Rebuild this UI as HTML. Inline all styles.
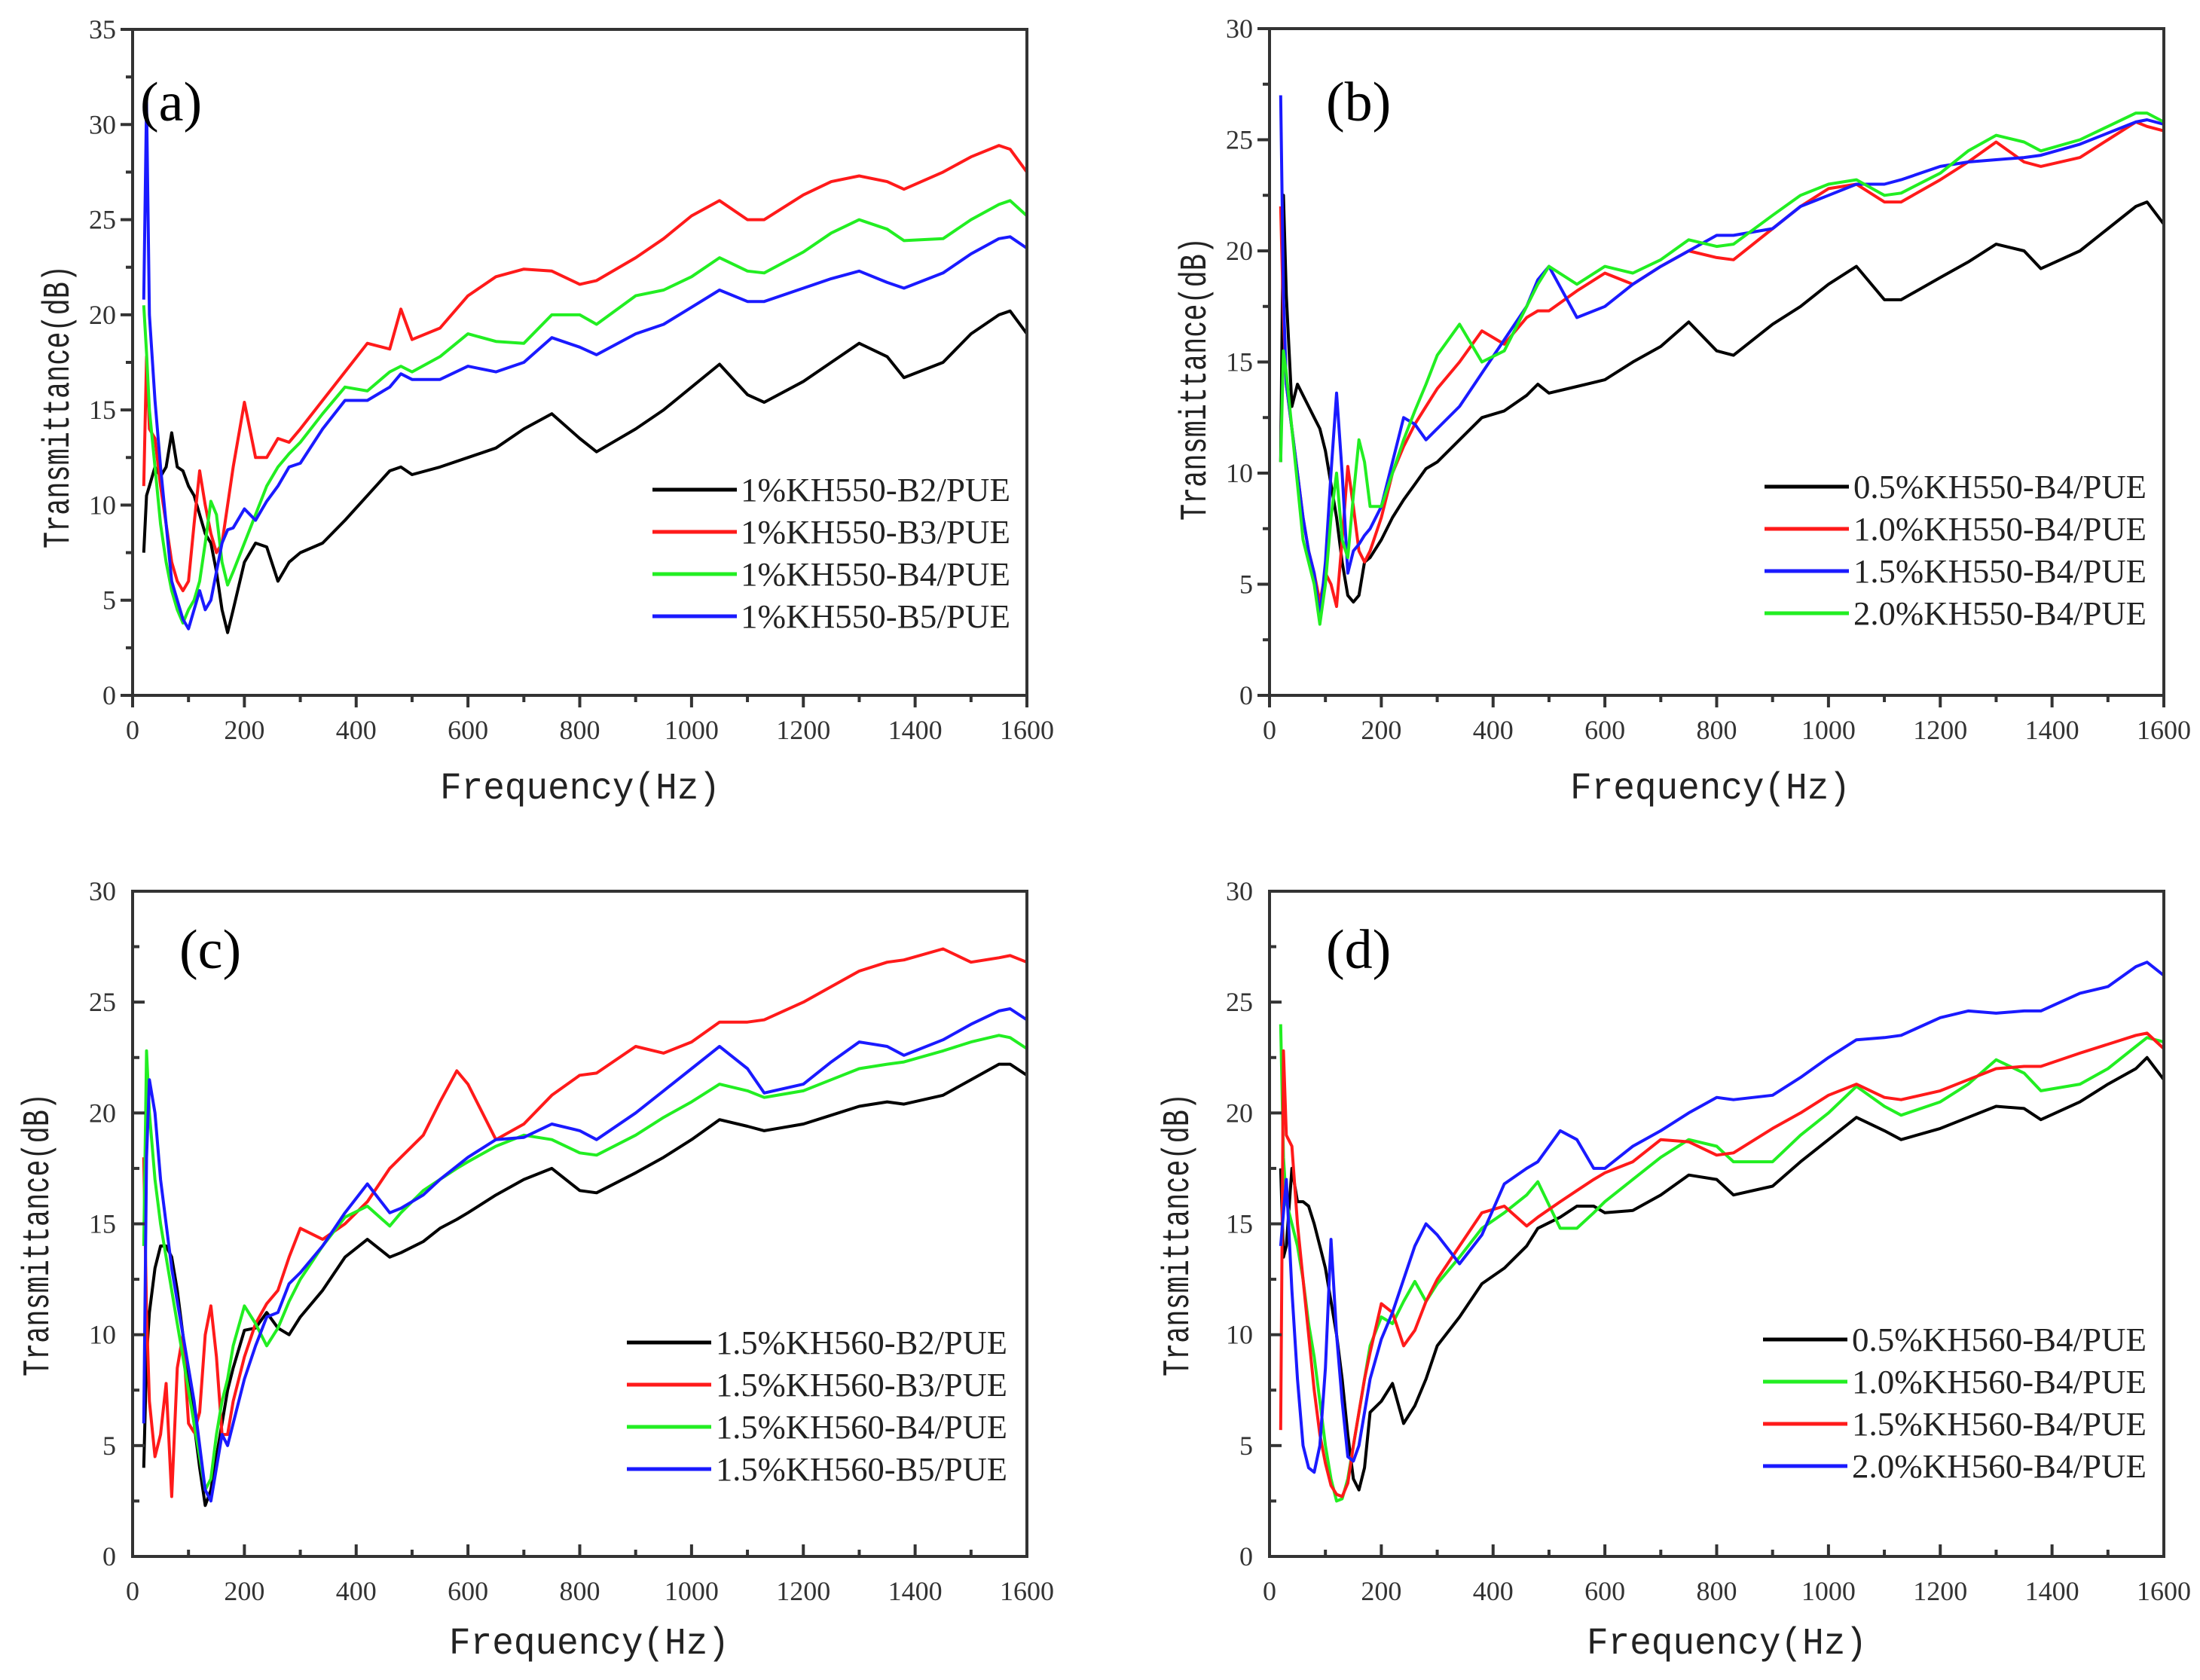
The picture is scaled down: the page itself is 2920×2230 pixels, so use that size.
<!DOCTYPE html>
<html><head><meta charset="utf-8"><style>
html,body{margin:0;padding:0;background:#fff}
svg{display:block}
</style></head><body>
<svg id="fig" width="2920" height="2230" viewBox="0 0 2920 2230" xmlns="http://www.w3.org/2000/svg"></svg>
<script>
// ---- data (Hz grid and dB values) ----
const freqAB = [20,25,30,40,50,60,70,80,90,100,110,120,130,140,150,160,170,180,200,220,240,260,280,300,340,380,420,460,480,500,550,600,650,700,750,800,830,900,950,1000,1050,1100,1130,1200,1250,1300,1350,1380,1450,1500,1550,1570,1600];
const freqCD = [20,25,30,40,50,60,70,80,90,100,110,120,130,140,150,160,170,180,200,220,240,260,280,300,340,380,420,460,480,520,550,580,600,650,700,750,800,830,900,950,1000,1050,1100,1130,1200,1250,1300,1350,1380,1450,1500,1550,1570,1600];

const aB2 = [7.5,10.5,11,12,11.5,12,13.8,12,11.8,11,10.5,9.5,8.5,8,6.5,4.5,3.3,4.5,7,8,7.8,6,7,7.5,8,9.2,10.5,11.8,12,11.6,12,12.5,13,14,14.8,13.5,12.8,14,15,16.2,17.4,15.8,15.4,16.5,17.5,18.5,17.8,16.7,17.5,19,20,20.2,19];
const aB3 = [11,17.8,14,13.5,11,9,7,6,5.5,6,9,11.8,10,8.5,7.5,8,10,12,15.4,12.5,12.5,13.5,13.3,14,15.5,17,18.5,18.2,20.3,18.7,19.3,21,22,22.4,22.3,21.6,21.8,23,24,25.2,26,25,25,26.3,27,27.3,27,26.6,27.5,28.3,28.9,28.7,27.5];
const aB4 = [20.5,18,15,12,9,7,5.5,4.5,3.8,4.5,5,6,8,10.2,9.5,7,5.8,6.5,8,9.5,11,12,12.7,13.3,14.8,16.2,16,17,17.3,17,17.8,19,18.6,18.5,20,20,19.5,21,21.3,22,23,22.3,22.2,23.3,24.3,25,24.5,23.9,24,25,25.8,26,25.2];
const aB5 = [20.8,31.2,20,15.5,12,9,6,5,4,3.5,4.5,5.5,4.5,5,6.5,8,8.7,8.8,9.8,9.2,10.2,11,12,12.2,14,15.5,15.5,16.2,16.9,16.6,16.6,17.3,17,17.5,18.8,18.3,17.9,19,19.5,20.4,21.3,20.7,20.7,21.4,21.9,22.3,21.7,21.4,22.2,23.2,24,24.1,23.5];

const b05 = [10.5,22.5,18,13,14,13.5,13,12.5,12,11,9.5,8,6,4.5,4.2,4.5,6,6.2,7,8,8.8,9.5,10.2,10.5,11.5,12.5,12.8,13.5,14,13.6,13.9,14.2,15,15.7,16.8,15.5,15.3,16.7,17.5,18.5,19.3,17.8,17.8,18.8,19.5,20.3,20,19.2,20,21,22,22.2,21.2];
const b10 = [22,17,14,12,10,8,6.5,5.5,4.2,5.5,5,4,7,10.3,8.5,6.5,6,6.5,8,10,11.2,12.2,13,13.8,15,16.4,15.8,17,17.3,17.3,18.2,19,18.5,19.3,20,19.7,19.6,21,22,22.8,23,22.2,22.2,23.2,24,24.9,24,23.8,24.2,25,25.8,25.6,25.4];
const b15 = [27,18,14,12,10,8,6.5,5.5,3.5,6,10,13.6,10,5.5,6.5,6.8,7.2,7.5,8.5,10.5,12.5,12.2,11.5,12,13,14.5,16,17.5,18.7,19.3,17,17.5,18.5,19.3,20,20.7,20.7,21,22,22.5,23,23,23.2,23.8,24,24.1,24.2,24.3,24.8,25.3,25.8,25.9,25.7];
const b20 = [10.5,15.5,14.5,12,9.5,7,6,5,3.2,5,8,10,7,6.2,9,11.5,10.5,8.5,8.5,10,11.5,12.8,14,15.3,16.7,15,15.5,17.5,18.5,19.3,18.5,19.3,19,19.6,20.5,20.2,20.3,21.6,22.5,23,23.2,22.5,22.6,23.5,24.5,25.2,24.9,24.5,25,25.6,26.2,26.2,25.8];

const cB2 = [4,9,11,13,14,14,13.5,12,10,8,6,4,2.3,3,4.5,6,7.5,8.5,10.2,10.3,11,10.3,10,10.8,12,13.5,14.3,13.5,13.7,14.2,14.8,15.2,15.5,16.3,17,17.5,16.5,16.4,17.3,18,18.8,19.7,19.4,19.2,19.5,19.9,20.3,20.5,20.4,20.8,21.5,22.2,22.2,21.7];
const cB3 = [18,11,7,4.5,5.5,7.8,2.7,8.5,10,6,5.6,6.5,10,11.3,9,5.5,5.5,7,9,10.5,11.4,12,13.5,14.8,14.3,15,16,17.5,18,19,20.5,21.9,21.3,18.8,19.5,20.8,21.7,21.8,23,22.7,23.2,24.1,24.1,24.2,25,25.7,26.4,26.8,26.9,27.4,26.8,27,27.1,26.8];
const cB4 = [14,22.8,20,17,15,13.5,12,10.5,9,7.5,6,4.5,3,3.5,5.5,7,8,9.5,11.3,10.5,9.5,10.3,11.5,12.5,14,15.3,15.8,14.9,15.5,16.5,17,17.5,17.8,18.5,19,18.8,18.2,18.1,19,19.8,20.5,21.3,21,20.7,21,21.5,22,22.2,22.3,22.8,23.2,23.5,23.4,22.9];
const cB5 = [6,18,21.5,20,17,15,13,11.5,10,8.5,7,5,3,2.5,4,5.5,5,6,8,9.5,10.8,11,12.3,12.8,14,15.5,16.8,15.5,15.7,16.3,17,17.6,18,18.8,18.9,19.5,19.2,18.8,20,21,22,23,22,20.9,21.3,22.3,23.2,23,22.6,23.3,24,24.6,24.7,24.2];

const d05 = [17.5,13.5,14,17.5,16,16,15.8,15,14,13,11.5,10,8,5.5,3.5,3,4,6.5,7,7.8,6,6.8,8,9.5,10.8,12.3,13,14,14.8,15.3,15.8,15.8,15.5,15.6,16.3,17.2,17,16.3,16.7,17.8,18.8,19.8,19.2,18.8,19.3,19.8,20.3,20.2,19.7,20.5,21.3,22,22.5,21.5];
const d10 = [24,18,16,15,14,12.5,10.5,9,7,5,3.5,2.5,2.6,3.5,5,6.5,8,9.5,10.8,10.5,11.5,12.4,11.5,12.3,13.5,14.8,15.5,16.3,16.9,14.8,14.8,15.5,16,17,18,18.8,18.5,17.8,17.8,19,20,21.2,20.3,19.9,20.5,21.3,22.4,21.8,21,21.3,22,23,23.4,23.2];
const d15 = [5.7,22.8,19,18.5,15,12.5,10,7.5,5.5,4.2,3.2,2.8,2.7,3.3,5,6.5,8,9.2,11.4,11,9.5,10.2,11.5,12.5,14,15.5,15.8,14.9,15.3,16,16.5,17,17.3,17.8,18.8,18.7,18.1,18.2,19.3,20,20.8,21.3,20.7,20.6,21,21.5,22,22.1,22.1,22.7,23.1,23.5,23.6,22.9];
const d20 = [14,15.5,17,12,8,5,4,3.8,5,8.5,14.3,10,7,4.5,4.3,5,6.5,8,9.8,11,12.5,14,15,14.5,13.2,14.5,16.8,17.5,17.8,19.2,18.8,17.5,17.5,18.5,19.2,20,20.7,20.6,20.8,21.6,22.5,23.3,23.4,23.5,24.3,24.6,24.5,24.6,24.6,25.4,25.7,26.6,26.8,26.2];

const xTicks = [0,200,400,600,800,1000,1200,1400,1600];
const yTicksA = [0,5,10,15,20,25,30,35];
const yTicks30 = [0,5,10,15,20,25,30];

const namesA = ['1%KH550-B2/PUE','1%KH550-B3/PUE','1%KH550-B4/PUE','1%KH550-B5/PUE'];
const namesB = ['0.5%KH550-B4/PUE','1.0%KH550-B4/PUE','1.5%KH550-B4/PUE','2.0%KH550-B4/PUE'];
const namesC = ['1.5%KH560-B2/PUE','1.5%KH560-B3/PUE','1.5%KH560-B4/PUE','1.5%KH560-B5/PUE'];
const namesD = ['0.5%KH560-B4/PUE','1.0%KH560-B4/PUE','1.5%KH560-B4/PUE','2.0%KH560-B4/PUE'];

const K='#000000', R='#ff1a1a', G='#22ee22', B='#1a1aff';
const NS='http://www.w3.org/2000/svg';
const svg=document.getElementById('fig');
function mk(tag,attrs,parent){const e=document.createElementNS(NS,tag);for(const k in attrs)e.setAttribute(k,attrs[k]);(parent||svg).appendChild(e);return e;}

const panels=[
 {id:'a',L:176,R:1363,T:39,Bt:923,ymax:35,yt:yTicksA,out:true,freq:freqAB,series:[[aB2,K],[aB3,R],[aB4,G],[aB5,B]],names:namesA,
  leg:{x1:866,x2:978,tx:983,y0:650,w:358},lab:[186,160],ytx:74,yty:540,xtx:770,xty:1043},
 {id:'b',L:1685,R:2872,T:38,Bt:923,ymax:30,yt:yTicks30,out:true,freq:freqAB,series:[[b05,K],[b10,R],[b15,B],[b20,G]],names:namesB,legCol:[K,R,B,G],
  leg:{x1:2342,x2:2454,tx:2460,y0:646,w:389},lab:[1760,160],ytx:1583,yty:503,xtx:2270,xty:1043},
 {id:'c',L:176,R:1363,T:1183,Bt:2066,ymax:30,yt:yTicks30,out:false,freq:freqCD,series:[[cB2,K],[cB3,R],[cB4,G],[cB5,B]],names:namesC,
  leg:{x1:832,x2:944,tx:950,y0:1782,w:387},lab:[238,1285],ytx:47,yty:1639,xtx:782,xty:2178},
 {id:'d',L:1685,R:2872,T:1183,Bt:2066,ymax:30,yt:yTicks30,out:false,freq:freqCD,series:[[d05,K],[d10,G],[d15,R],[d20,B]],names:namesD,
  leg:{x1:2340,x2:2452,tx:2458,y0:1778,w:391},lab:[1760,1285],ytx:1560,yty:1639,xtx:2292,xty:2178}
];

panels.forEach(p=>{
 const g=mk('g',{});
 
 
 const xs=f=>p.L+(f/1600)*(p.R-p.L);
 const ys=v=>p.Bt-(v/p.ymax)*(p.Bt-p.T);
 p.series.forEach((s,i)=>{
  const vals=s[0];const n=Math.min(vals.length,p.freq.length);
  let d='';
  for(let j=0;j<n;j++){d+=(j?'L':'M')+xs(p.freq[j]).toFixed(1)+','+ys(vals[j]).toFixed(1);}
  const path=mk('path',{d:d,fill:'none',stroke:s[1],'stroke-width':4,'stroke-linejoin':'round'},g);
  
  
 });
 const fr=mk('rect',{x:p.L,y:p.T,width:p.R-p.L,height:p.Bt-p.T,fill:'none',stroke:'#333','stroke-width':4},g);
 
 
 const dir=p.out?1:-1;
 for(let f=0;f<=1600;f+=100){
  const len=(f%200===0)?16:9;
  mk('line',{x1:xs(f),x2:xs(f),y1:p.Bt,y2:p.Bt+dir*len,stroke:'#333','stroke-width':4},g);
 }
 xTicks.forEach(f=>{
  const t=mk('text',{x:xs(f),y:p.Bt+58,'text-anchor':'middle','font-family':'Liberation Serif, serif','font-size':36,fill:'#333'},g);
  t.textContent=f;
  
  
 });
 for(let v=0;v<=p.ymax;v+=2.5){
  const len=(v%5===0)?16:9;
  mk('line',{x1:p.L,x2:p.L-dir*len,y1:ys(v),y2:ys(v),stroke:'#333','stroke-width':4},g);
 }
 p.yt.forEach(v=>{
  const t=mk('text',{x:p.L-22,y:ys(v)+12,'text-anchor':'end','font-family':'Liberation Serif, serif','font-size':36,fill:'#333'},g);
  t.textContent=v;
  
  
 });
 const xt=mk('text',{x:p.xtx,y:p.xty+17,'text-anchor':'middle','font-family':'Liberation Mono, monospace','font-size':50,fill:'#222',textLength:372,lengthAdjust:'spacingAndGlyphs'},g);
 xt.textContent='Frequency(Hz)';
 
 
 const yt=mk('text',{x:0,y:0,'text-anchor':'middle','font-family':'Liberation Mono, monospace','font-size':50,fill:'#222',textLength:376,lengthAdjust:'spacingAndGlyphs',transform:'translate('+(p.ytx+17)+','+p.yty+') rotate(-90)'},g);
 yt.textContent='Transmittance(dB)';
 
 
 const lb=mk('text',{x:p.lab[0],y:p.lab[1],'font-family':'Liberation Serif, serif','font-size':74,fill:'#000'},g);
 lb.textContent='('+p.id+')';
 
 
 const cols=p.legCol||p.series.map(s=>s[1]);
 p.names.forEach((nm,i)=>{
  const y=p.leg.y0+i*56;
  const ln=mk('line',{x1:p.leg.x1,x2:p.leg.x2,y1:y,y2:y,stroke:cols[i],'stroke-width':5},g);
  
  
  const t=mk('text',{x:p.leg.tx,y:y+15,'font-family':'Liberation Serif, serif','font-size':44,fill:'#222',textLength:p.leg.w,lengthAdjust:'spacingAndGlyphs'},g);
  t.textContent=nm;
  
  
 });
});
</script>
</body></html>
